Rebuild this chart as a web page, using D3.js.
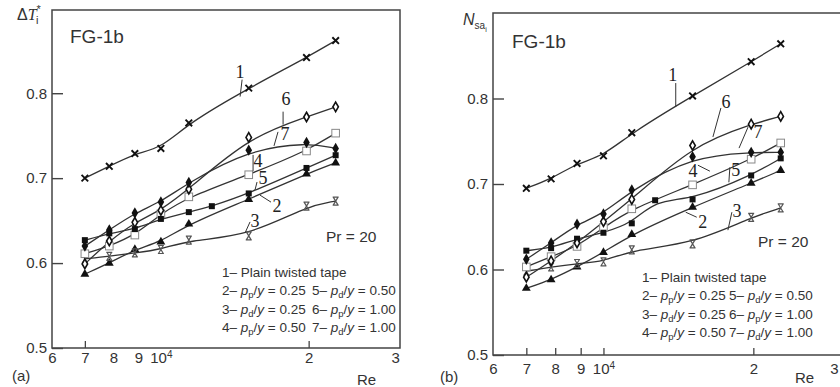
<!DOCTYPE html>
<html>
<head>
<meta charset="utf-8">
<script src="https://cdn.jsdelivr.net/npm/d3@7"></script>
<style>
  body { margin: 0; background: #fff; }
  svg { display: block; font-family: "Liberation Sans", Arial, sans-serif; }
</style>
</head>
<body>
<svg id="chart" width="840" height="387"></svg>
<script>
// Reynolds numbers of the measured points (12700 only carries the extra filled-square point)
const re = [7000, 7850, 8850, 10000, 11400, 12700, 15100, 19800, 22700];

// panel (a): dimensionless temperature rise
const a1 = [0.700, 0.714, 0.729, 0.735, 0.765, null, 0.806, 0.842, 0.862];
const a2 = [0.587, 0.600, 0.616, 0.625, 0.646, null, 0.675, 0.705, 0.718];
const a3 = [0.605, 0.608, 0.612, 0.616, 0.627, null, 0.632, 0.667, 0.673];
const a4 = [0.611, 0.620, 0.633, 0.658, 0.678, null, 0.704, 0.732, 0.753];
const a5 = [0.627, 0.635, 0.640, 0.652, 0.660, 0.667, 0.682, 0.712, 0.727];
const a6 = [0.599, 0.626, 0.648, 0.662, 0.687, null, 0.748, 0.772, 0.784];
const a7 = [0.620, 0.639, 0.659, 0.672, 0.695, null, 0.733, 0.742, 0.735];

// panel (b): N_sa
const b1 = [0.695, 0.706, 0.724, 0.733, 0.760, null, 0.803, 0.843, 0.864];
const b2 = [0.578, 0.588, 0.603, 0.620, 0.641, null, 0.673, 0.701, 0.716];
const b3 = [0.598, 0.603, 0.607, 0.609, 0.623, null, 0.630, 0.661, 0.672];
const b4 = [0.603, 0.615, 0.627, 0.649, 0.671, null, 0.699, 0.729, 0.748];
const b5 = [0.622, 0.625, 0.636, 0.643, 0.654, 0.681, 0.682, 0.710, 0.730];
const b6 = [0.591, 0.610, 0.631, 0.656, 0.682, null, 0.745, 0.770, 0.779];
const b7 = [0.612, 0.631, 0.653, 0.665, 0.693, null, 0.732, 0.737, 0.737];

const seriesNames = ["1", "2", "3", "4", "5", "6", "7"];
const markerKinds = ["cross", "tri", "zhe", "sqOpen", "sqFill", "diaOpen", "diaFill"];

const yTicks = [0.5, 0.6, 0.7, 0.8];
const xLabelTicks = [6000, 7000, 8000, 9000, 10000, 20000, 30000];
const xLabelText = ["6", "7", "8", "9", "10", "2", "3"];

// curve labels: [name, Re, value on curve]
const notesA = [["1", 14500, 0.796], ["6", 17740, 0.763], ["7", 17000, 0.738], ["4", 15410, 0.7085],
                ["5", 15550, 0.686], ["2", 15920, 0.680], ["3", 14840, 0.6355]];
const notesB = [["1", 13970, 0.790], ["6", 16590, 0.755], ["7", 18720, 0.742], ["4", 16360, 0.715],
                ["5", 17860, 0.702], ["2", 14630, 0.667], ["3", 17780, 0.646]];

const legendRows = [
  [["2– ", ""], ["p", "i"], ["p", "sub"], ["/", ""], ["y", "i"], [" = 0.25", ""]],
  [["3– ", ""], ["p", "i"], ["d", "sub"], ["/", ""], ["y", "i"], [" = 0.25", ""]],
  [["4– ", ""], ["p", "i"], ["p", "sub"], ["/", ""], ["y", "i"], [" = 0.50", ""]],
  [["5– ", ""], ["p", "i"], ["d", "sub"], ["/", ""], ["y", "i"], [" = 0.50", ""]],
  [["6– ", ""], ["p", "i"], ["p", "sub"], ["/", ""], ["y", "i"], [" = 1.00", ""]],
  [["7– ", ""], ["p", "i"], ["d", "sub"], ["/", ""], ["y", "i"], [" = 1.00", ""]]
];

const svg = d3.select("#chart");
const ink = "#333";

// pointer offsets for the curve labels (line end dx,dy ; text dx,dy)
const offA = {"1": [2, -17, 0, -25], "6": [0, -13, 3, -26], "7": [4, -14, 11, -12], "4": [0, -16, 5, -10],
              "5": [2, -8, 8, -12], "2": [11, 7, 17, 11], "3": [5, -11, 10, -12]};
const offB = {"1": [0, -24, -3, -32], "6": [8, -29, 13, -35], "7": [9, -21, 19, -16], "4": [-12, -6, -17, 0],
              "5": [1, -15, 7, -13], "2": [11, 5, 17, 9], "3": [4, -18, 9, -19]};

const panels = [
  {tag: "(a)", L: 52, R: 400, T: 10, B: 348, xMax: 30700, yMax: 0.898, rightEdge: true,
   data: [a1, a2, a3, a4, a5, a6, a7], notes: notesA, off: offA, marks: [7000, 20000], xPad: 4, lastDx: 0,
   fg: [70, 43], pr: [326, 242], leg: [222, 312, 277, 18.4], tagPos: [12, 381], rePos: [357, 385]},
  {tag: "(b)", L: 493, R: 846, T: 13, B: 355, xMax: 30700, yMax: 0.9, rightEdge: false,
   data: [b1, b2, b3, b4, b5, b6, b7], notes: notesB, off: offB, marks: [7000, 8000, 9000, 10000, 20000], xPad: 8, lastDx: -7,
   fg: [512, 48], pr: [758, 247], leg: [642, 729, 282, 18.3], tagPos: [440, 382], rePos: [795, 383]}
];

function drawMarker(g, kind, x, y) {
  const m = g.append("g").attr("transform", `translate(${x},${y})`);
  if (kind === "cross") {
    m.append("path").attr("d", "M-3.3,-3.3L3.3,3.3M-3.3,3.3L3.3,-3.3")
      .attr("stroke", "#111").attr("stroke-width", 1.9).attr("fill", "none");
  } else if (kind === "tri") {
    m.append("path").attr("d", d3.symbol(d3.symbolTriangle, 34)()).attr("fill", "#111");
  } else if (kind === "zhe") {
    m.append("path").attr("d", "M-3,-4H3M-3,4H3M-2.4,-4L2.4,4M2.4,-4L-2.4,4")
      .attr("stroke", "#555").attr("stroke-width", 1.2).attr("fill", "none");
  } else if (kind === "sqOpen") {
    m.append("rect").attr("x", -3.8).attr("y", -3.8).attr("width", 7.6).attr("height", 7.6)
      .attr("fill", "#fff").attr("stroke", "#888").attr("stroke-width", 1);
  } else if (kind === "sqFill") {
    m.append("rect").attr("x", -3).attr("y", -3).attr("width", 6).attr("height", 6).attr("fill", "#111");
  } else if (kind === "diaOpen") {
    m.append("path").attr("d", d3.symbol(d3.symbolDiamond, 26)())
      .attr("fill", "#fff").attr("stroke", "#111").attr("stroke-width", 1.6);
  } else if (kind === "diaFill") {
    m.append("path").attr("d", d3.symbol(d3.symbolDiamond, 38)()).attr("fill", "#111");
  }
}

function richText(g, x, y, parts, size) {
  const t = g.append("text").attr("x", x).attr("y", y).attr("font-size", size).attr("fill", ink);
  let shift = 0;
  parts.forEach(([s, st]) => {
    const sp = t.append("tspan").text(s);
    const want = st === "sub" ? 3 : 0;
    if (want !== shift) { sp.attr("dy", want - shift); shift = want; }
    if (st === "i") sp.attr("font-style", "italic");
    if (st === "sub") sp.attr("font-size", size * 0.7);
  });
  return t;
}

panels.forEach(p => {
  const g = svg.append("g");
  const x = d3.scaleLog().domain([6000, p.xMax]).range([p.L, p.R]);
  const y = d3.scaleLinear().domain([0.5, p.yMax]).range([p.B, p.T]);

  // frame
  const frame = p.rightEdge
    ? `M${p.L},${p.T}H${p.R}V${p.B}H${p.L}Z`
    : `M840,${p.T}H${p.L}V${p.B}H840`;
  g.append("path").attr("d", frame).attr("fill", "none").attr("stroke", "#444").attr("stroke-width", 1.5);

  // y axis
  const ya = g.append("g").attr("transform", `translate(${p.L},0)`)
    .call(d3.axisLeft(y).tickValues(yTicks).tickSize(-11).tickPadding(5).tickFormat(d3.format(".1f")));
  ya.select(".domain").remove();
  ya.selectAll("line").attr("stroke", "#444").attr("stroke-width", 1.4);
  ya.selectAll("text").attr("font-size", 15).attr("fill", ink).attr("font-family", null);

  // x tick labels
  const xa = g.append("g").attr("transform", `translate(0,${p.B})`)
    .call(d3.axisBottom(x).tickValues(xLabelTicks).tickSize(0).tickPadding(p.xPad)
      .tickFormat((d, i) => xLabelText[i]));
  xa.select(".domain").remove();
  xa.selectAll("text").attr("font-size", 15).attr("fill", ink).attr("font-family", null);
  xa.selectAll("text").filter(d => d === 10000)
    .append("tspan").attr("dy", "-0.45em").attr("font-size", 10).text("4");
  xa.selectAll("text").filter(d => d === 30000).attr("dx", p.lastDx);
  // x tick marks
  const xm = g.append("g").attr("transform", `translate(0,${p.B})`)
    .call(d3.axisBottom(x).tickValues(p.marks).tickSize(-7).tickFormat(""));
  xm.select(".domain").remove();
  xm.selectAll("line").attr("stroke", "#444").attr("stroke-width", 1.3);

  // curves
  const line = d3.line().x(d => x(d[0])).y(d => y(d[1])).curve(d3.curveBasis);
  p.data.forEach((vals, si) => {
    const pts = re.map((r, i) => [r, vals[i]]).filter(d => d[1] != null);
    g.append("path").datum(pts).attr("d", line)
      .attr("fill", "none").attr("stroke", ink).attr("stroke-width", 1.3);
  });
  p.data.forEach((vals, si) => {
    re.forEach((r, i) => {
      if (vals[i] != null) drawMarker(g, markerKinds[si], x(r), y(vals[i]));
    });
  });

  // curve labels with pointers
  p.notes.forEach(([name, r, v]) => {
    const o = p.off[name];
    const cx = x(r), cy = y(v);
    g.append("line").attr("x1", cx).attr("y1", cy).attr("x2", cx + o[0]).attr("y2", cy + o[1])
      .attr("stroke", ink).attr("stroke-width", 1);
    g.append("text").attr("x", cx + o[2]).attr("y", cy + o[3]).attr("dy", "0.35em")
      .attr("text-anchor", "middle").attr("font-family", "'Liberation Serif', serif")
      .attr("font-size", 18).attr("fill", "#222").text(name);
  });

  // texts
  g.append("text").attr("x", p.fg[0]).attr("y", p.fg[1]).attr("font-size", 19).attr("fill", ink).text("FG-1b");
  g.append("text").attr("x", p.pr[0]).attr("y", p.pr[1]).attr("font-size", 15.5).attr("fill", ink).text("Pr = 20");
  const [lx1, lx2, ly0, lh] = p.leg;
  g.append("text").attr("x", lx1).attr("y", ly0).attr("font-size", 13.5).attr("fill", ink)
    .text("1– Plain twisted tape");
  legendRows.forEach((row, i) => {
    const col = i < 3 ? 0 : 1;
    const rr = i % 3;
    richText(g, col ? lx2 : lx1, ly0 + lh * (rr + 1), row, 13.5);
  });
  g.append("text").attr("x", p.tagPos[0]).attr("y", p.tagPos[1]).attr("font-size", 15).attr("fill", ink).text(p.tag);
  g.append("text").attr("x", p.rePos[0]).attr("y", p.rePos[1]).attr("font-size", 15).attr("fill", ink).text("Re");
});

// y axis titles
const ta = svg.append("text").attr("x", 17).attr("y", 20).attr("font-size", 16).attr("fill", ink);
ta.append("tspan").text("Δ");
ta.append("tspan").attr("font-family", "'Liberation Serif', serif").attr("font-style", "italic").text("T");
ta.append("tspan").attr("dy", -7).attr("font-size", 11).text("*");
ta.append("tspan").attr("dx", -5).attr("dy", 11).attr("font-size", 11).text("i");

const tb = svg.append("text").attr("x", 463).attr("y", 25).attr("font-size", 16).attr("fill", ink);
tb.append("tspan").attr("font-style", "italic").text("N");
tb.append("tspan").attr("dy", 4).attr("font-size", 10).text("sa");
tb.append("tspan").attr("dy", 3).attr("font-size", 7).text("i");
</script>
</body>
</html>
